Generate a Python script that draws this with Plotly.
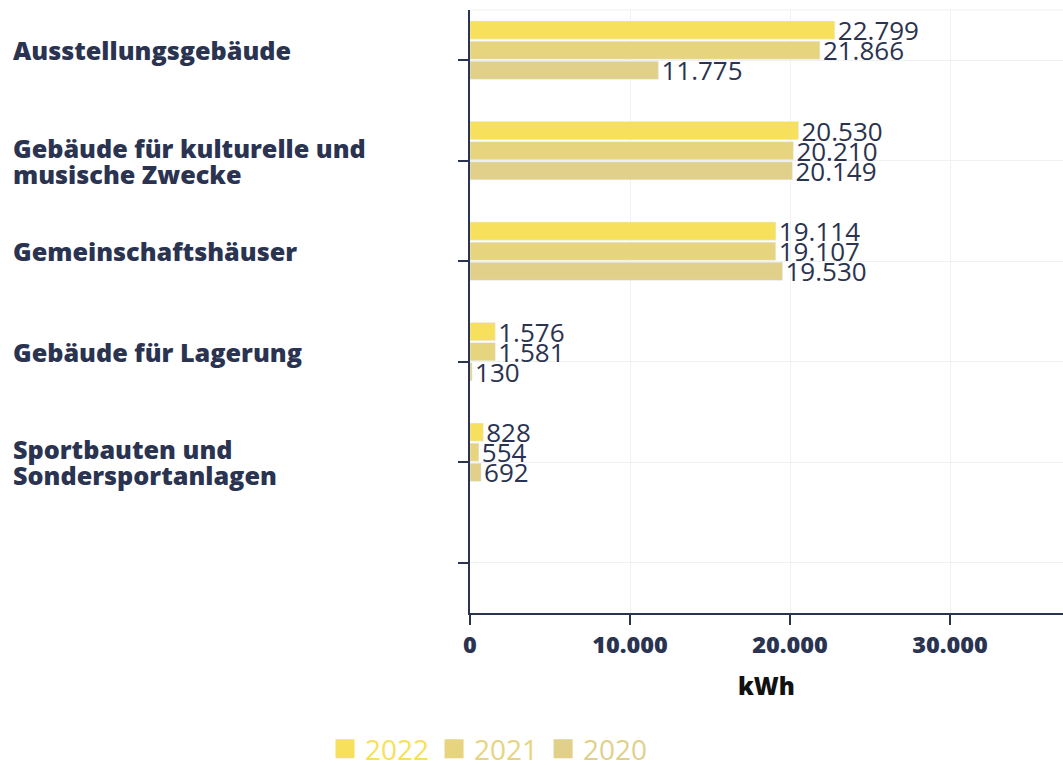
import plotly.graph_objects as go

categories = [
    "Ausstellungsgebäude",
    "Gebäude für kulturelle und musische Zwecke",
    "Gemeinschaftshäuser",
    "Gebäude für Lagerung",
    "Sportbauten und Sondersportanlagen",
    " ",
]
category_label_lines = [
    ["Ausstellungsgebäude"],
    ["Gebäude für kulturelle und", "musische Zwecke"],
    ["Gemeinschaftshäuser"],
    ["Gebäude für Lagerung"],
    ["Sportbauten und", "Sondersportanlagen"],
    [],
]
years = ["2022", "2021", "2020"]
values_2022 = [22799, 20530, 19114, 1576, 828, None]
values_2021 = [21866, 20210, 19107, 1581, 554, None]
values_2020 = [11775, 20149, 19530, 130, 692, None]
colors = ["#F7E05B", "#E6D47F", "#E0D08A"]
x_ticks = [0, 10000, 20000, 30000]
x_title = "kWh"

TEXT = "#2A3350"
FONT = "Open Sans"

fig = go.Figure()
for name, vals, col in zip(years, [values_2022, values_2021, values_2020], colors):
    fig.add_trace(go.Bar(
        y=categories, x=vals, name=name, orientation="h",
        marker=dict(color=col), legendgroup=name, showlegend=False,
        texttemplate="%{x:,}", textposition="outside", constraintext="none",
        textfont=dict(color=TEXT, size=26, family=FONT),
        cliponaxis=False,
    ))
# empty fourth slot in each group
fig.add_trace(go.Bar(y=categories, x=[None] * len(categories), orientation="h",
                     showlegend=False, hoverinfo="skip"))
# legend entries
for name, col in zip(years, colors):
    fig.add_trace(go.Scatter(
        x=[None], y=[None], mode="markers", legendgroup=name,
        name=f"<span style='color:{col}'>{name}</span>",
        marker=dict(symbol="square", size=16, color=col, line=dict(color=col, width=3)),
    ))

LINE_GAP = 26
annotations = []
for cat, lines in zip(categories, category_label_lines):
    n = len(lines)
    for i, line in enumerate(lines):
        shift = 10 if n == 1 else (n - 1) / 2 * LINE_GAP - i * LINE_GAP
        annotations.append(dict(
            text=line, xref="paper", x=-0.774, xanchor="left", align="left",
            yref="y", y=cat, yanchor="middle", yshift=shift,
            showarrow=False, font=dict(family=FONT, size=25.2, color=TEXT, weight=800),
        ))
annotations.append(dict(
    text=x_title, xref="paper", x=0.5, xanchor="center",
    yref="paper", y=-0.12, yanchor="middle", showarrow=False,
    font=dict(family=FONT, size=24, color="#111111", weight=800),
))

fig.update_layout(
    width=1063, height=765,
    margin=dict(l=470, r=0, t=10, b=152, autoexpand=False),
    paper_bgcolor="white", plot_bgcolor="white",
    barmode="group", bargap=0.2, bargroupgap=0.1,
    separators=",.",
    font=dict(family=FONT, color=TEXT),
    annotations=annotations,
    shapes=[dict(type="line", xref="paper", yref="paper", x0=0, x1=1, y0=1, y1=1,
                 line=dict(color="#F1F1F1", width=1), layer="below")],
    legend=dict(orientation="h", xref="container", x=325 / 1063, xanchor="left",
                yref="container", y=(765 - 749) / 765, yanchor="middle",
                font=dict(size=28, family=FONT), itemwidth=30, tracegroupgap=0),
    xaxis=dict(
        range=[0, 37060], tickvals=x_ticks, tickformat=",d", automargin=False,
        showgrid=True, gridcolor="#F1F1F1", zeroline=False,
        showline=True, linecolor=TEXT, linewidth=2,
        ticks="outside", ticklen=10, tickcolor=TEXT, tickwidth=2,
        tickfont=dict(family=FONT, size=23.5, color=TEXT, weight=800),
    ),
    yaxis=dict(
        type="category", categoryorder="array", categoryarray=categories,
        range=[5.5, -0.5], showticklabels=False, automargin=False,
        showgrid=True, gridcolor="#F1F1F1", zeroline=False,
        showline=True, linecolor=TEXT, linewidth=2,
        ticks="outside", ticklen=10, tickcolor=TEXT, tickwidth=2,
    ),
)

fig.write_html("out.html", config={"displayModeBar": False},
               post_script="document.body.style.margin='0';")
